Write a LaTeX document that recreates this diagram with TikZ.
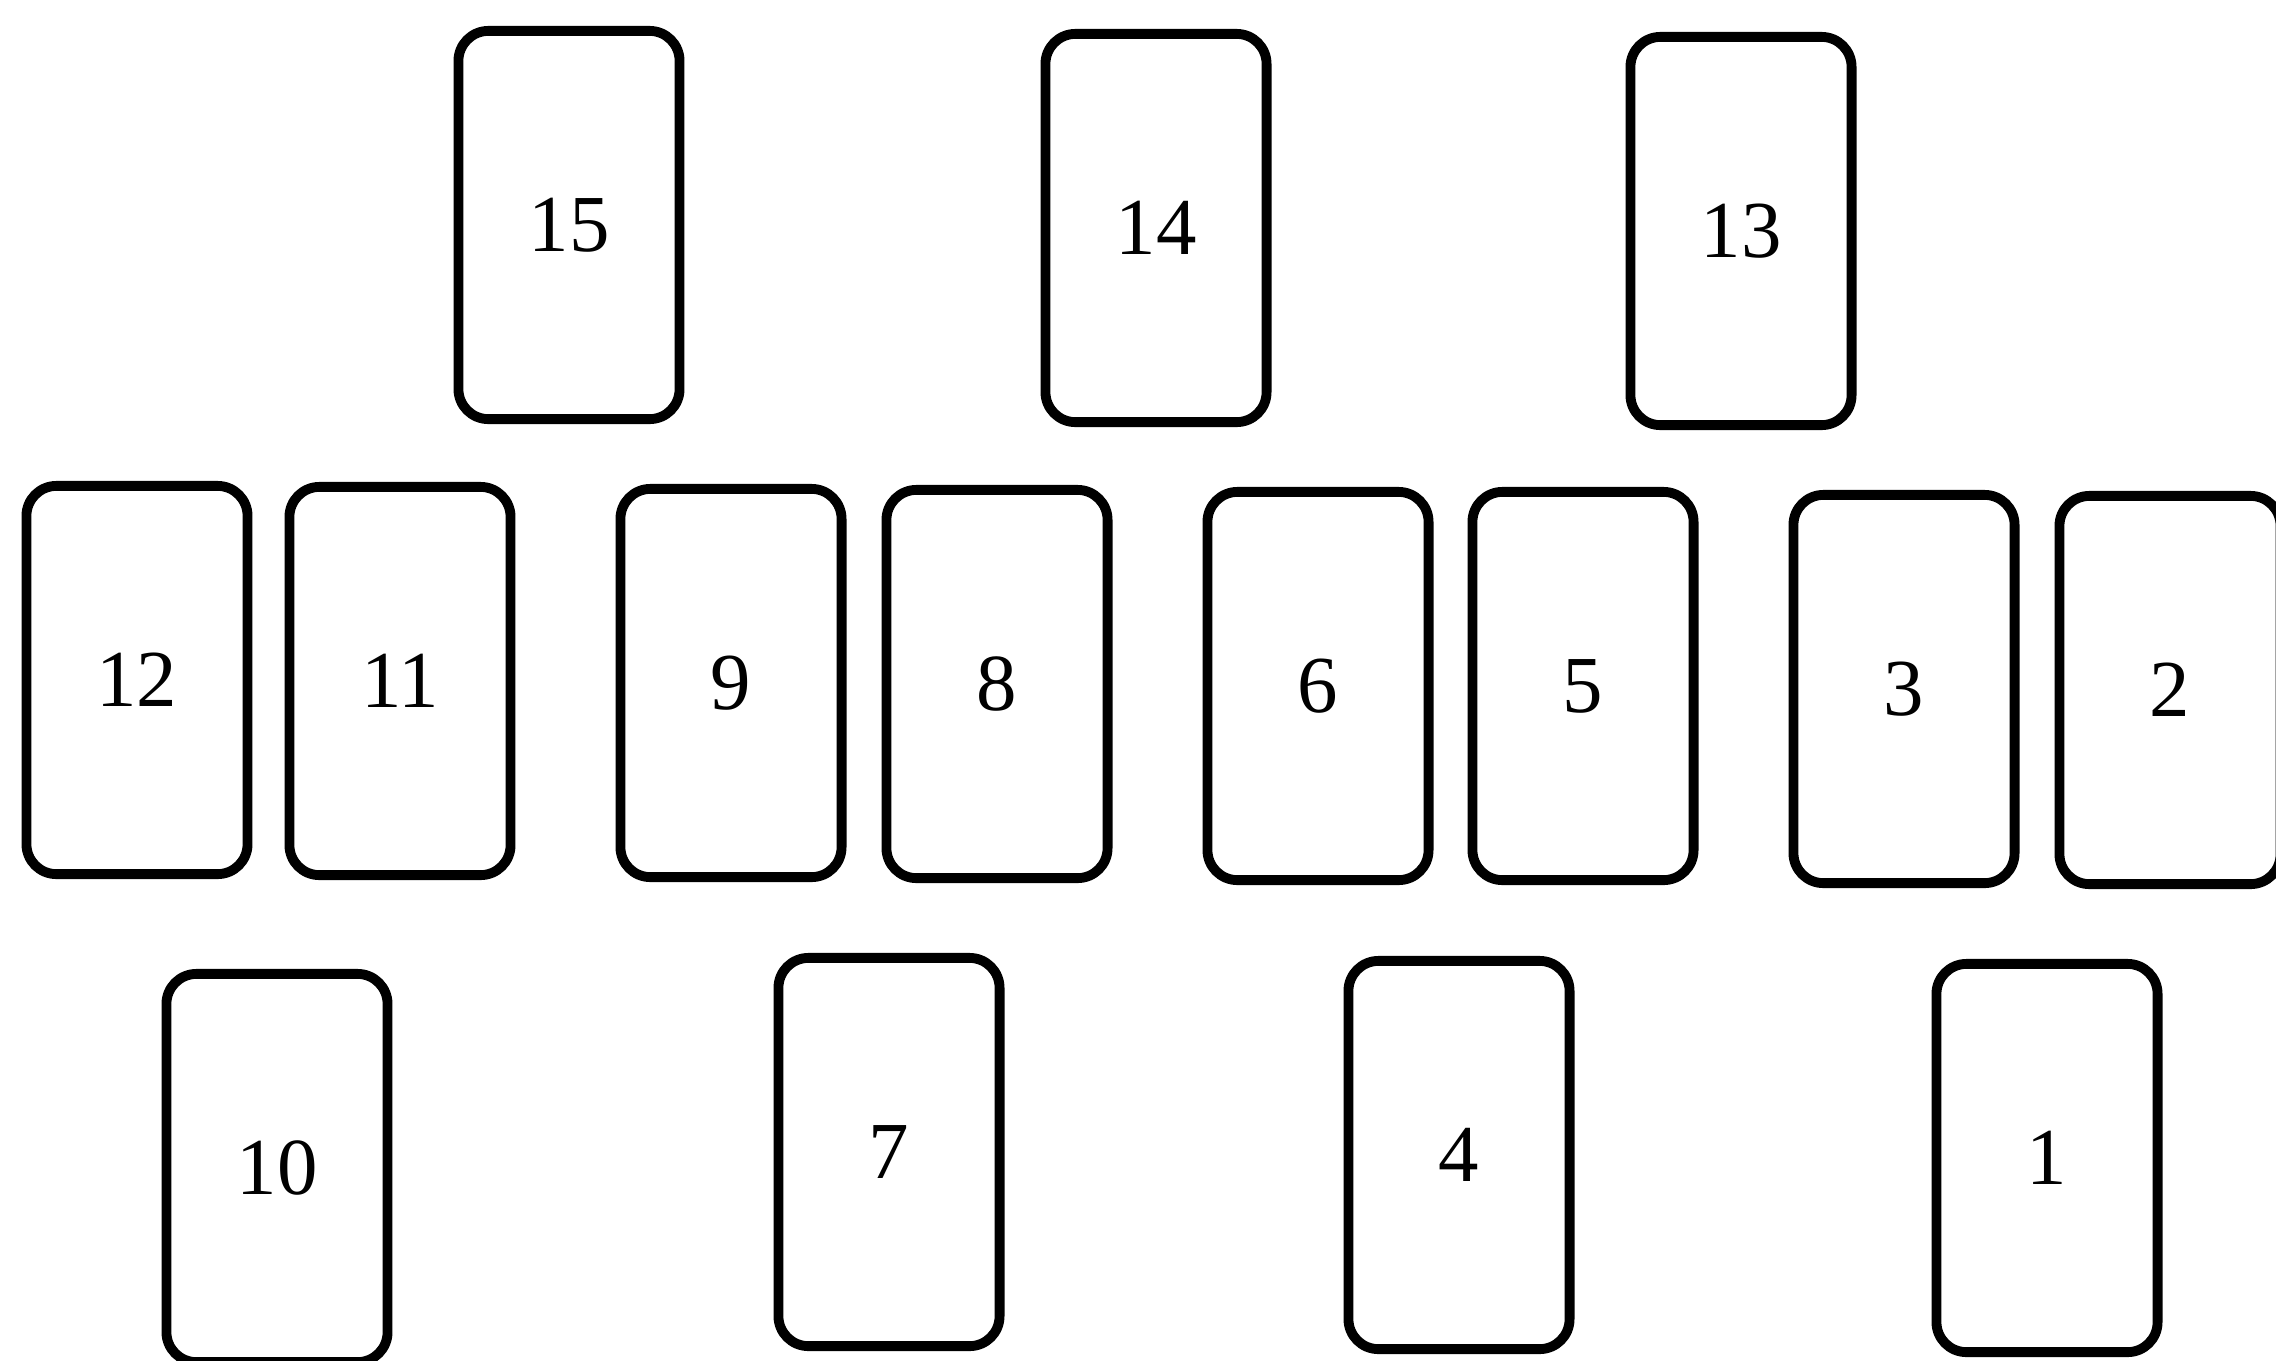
\documentclass[tikz,border=0pt]{standalone}
\usepackage{fontspec}
\setmainfont{Liberation Serif}
\begin{document}
\begin{tikzpicture}[x=0.01cm,y=-0.01cm,
  card/.style={draw=black, line width=2.8pt, rounded corners=0.3cm,
    minimum width=2.21cm, minimum height=3.88cm, inner sep=0pt,
    font=\fontsize{23}{28}\selectfont}]
\useasboundingbox (0,0) rectangle (2276,1360);
\clip (0,0) rectangle (2276,1360);
% top row
\node[card] (c15) at (569,225) {15};
\node[card] (c14) at (1156,228) {14};
\node[card] (c13) at (1741,231) {13};
% middle row
\node[card] (c12) at (137,680) {12};
\node[card] (c11) at (400,681) {11};
\node[card] (c9) at (731,683) {9};
\node[card] (c8) at (997,684) {8};
\node[card] (c6) at (1318,686) {6};
\node[card] (c5) at (1583,686) {5};
\node[card] (c3) at (1904,689) {3};
\node[card] (c2) at (2170,690) {2};
% bottom row
\node[card] (c10) at (277,1168) {10};
\node[card] (c7) at (889,1152) {7};
\node[card] (c4) at (1459,1155) {4};
\node[card] (c1) at (2047,1158) {1};
\end{tikzpicture}
\end{document}
